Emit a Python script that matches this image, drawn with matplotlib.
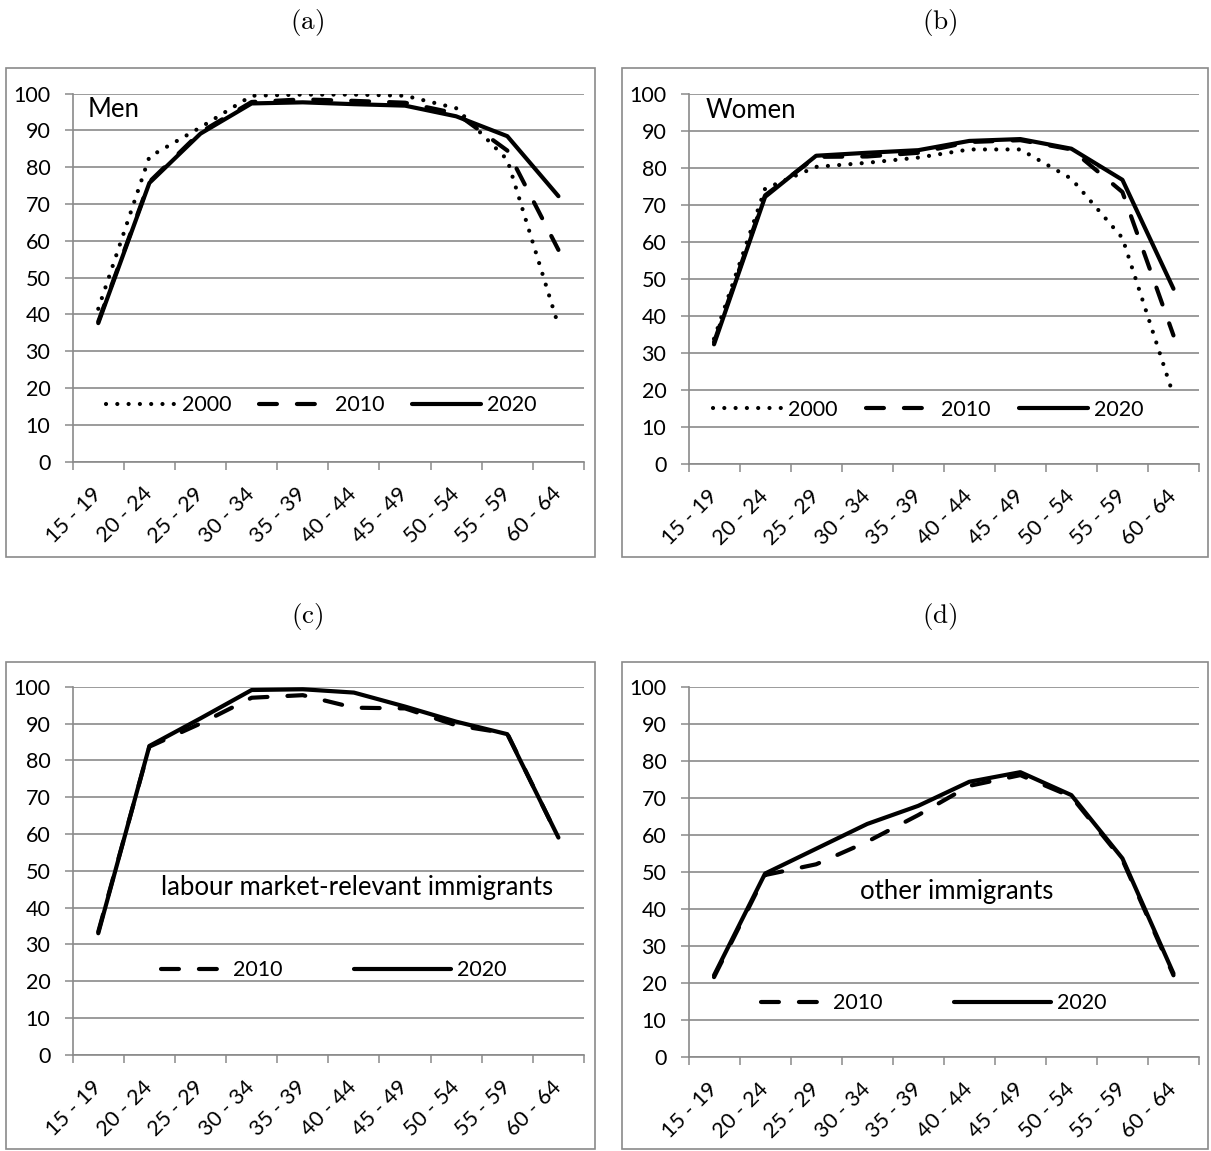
import numpy as np
import matplotlib
matplotlib.use('Agg')
import matplotlib.pyplot as plt
from matplotlib.patches import Rectangle
from matplotlib.legend_handler import HandlerLine2D

plt.rcParams['font.family'] = ['Lato', 'DejaVu Sans']

ages = ['15 - 19', '20 - 24', '25 - 29', '30 - 34', '35 - 39',
        '40 - 44', '45 - 49', '50 - 54', '55 - 59', '60 - 64']

men_2000 = [41.5, 82.8, 90.8, 99.4, 99.7, 99.7, 99.4, 96.0, 82.0, 36.9]
men_2010 = [38.0, 76.0, 89.5, 97.7, 98.4, 98.0, 97.5, 94.6, 84.5, 57.5]
men_2020 = [37.6, 75.7, 89.1, 97.3, 97.6, 97.1, 96.7, 93.8, 88.4, 72.1]

women_2000 = [33.8, 74.3, 80.2, 81.3, 82.7, 84.9, 84.9, 77.0, 61.0, 18.5]
women_2010 = [32.9, 72.5, 82.9, 83.0, 84.0, 86.9, 87.4, 84.9, 73.4, 34.7]
women_2020 = [32.3, 72.1, 83.2, 84.0, 84.7, 87.2, 87.7, 85.1, 76.7, 47.3]

labour_2010 = [33.4, 83.7, 90.0, 97.0, 97.7, 94.3, 94.1, 89.5, 87.3, 58.9]
labour_2020 = [33.0, 83.9, 91.4, 99.1, 99.3, 98.4, 94.6, 90.5, 87.1, 59.0]

other_2010 = [21.5, 49.1, 52.0, 58.1, 65.3, 73.2, 76.1, 70.3, 53.2, 22.0]
other_2020 = [22.0, 49.5, 56.2, 62.9, 67.8, 74.3, 76.9, 70.7, 53.6, 22.5]

GRAY = '#8a8a8a'
FS = 15.5
NOTE_FS = 18.5
LW = 3.0
styles = {
    '2000': dict(linestyle=(0, (0.01, 2.7)), dash_capstyle='round'),
    '2010': dict(linestyle=(0, (4.3, 4.8)), dash_capstyle='round'),
    '2020': dict(linestyle='-', solid_capstyle='round'),
}


class ShortHandler(HandlerLine2D):
    """draws the handle only in the right part of the handle box"""
    def __init__(self, frac, **kw):
        super().__init__(**kw)
        self.frac = frac

    def create_artists(self, legend, orig_handle, xdescent, ydescent,
                       width, height, fontsize, trans):
        shift = width * (1 - self.frac)
        return super().create_artists(legend, orig_handle, xdescent - shift,
                                      ydescent, width - shift, height,
                                      fontsize, trans)


def setup_axis(ax):
    x = np.arange(len(ages))
    ax.set_xlim(-0.5, len(ages) - 0.5)
    ax.set_ylim(0, 100)
    ax.set_xticks(np.arange(-0.5, len(ages), 1))
    ax.set_xticks(x, minor=True)
    ax.set_xticklabels(ages, minor=True, rotation=45, ha='right',
                       va='center', rotation_mode='anchor', fontsize=FS)
    ax.tick_params(axis='x', which='major', length=6, width=1.1,
                   color=GRAY, labelbottom=False)
    ax.tick_params(axis='x', which='minor', length=0, pad=21)
    ax.set_yticks(range(0, 101, 10))
    ax.tick_params(axis='y', length=6, width=1.1, color=GRAY, pad=10,
                   labelsize=FS)
    ax.yaxis.grid(True, color=GRAY, lw=1.2)
    ax.set_axisbelow(True)
    for s in ['top', 'right']:
        ax.spines[s].set_visible(False)
    for s in ['left', 'bottom']:
        ax.spines[s].set_color(GRAY)
        ax.spines[s].set_linewidth(1.2)
    return x


def panel(ax, series, note, note_pos, note_ha, leg_pos, short=False):
    x = setup_axis(ax)
    lines = []
    for year, vals in series:
        ln, = ax.plot(x, vals, color='black', lw=LW, label=year,
                      **styles[year])
        lines.append(ln)
    ax.text(note_pos[0], note_pos[1], note, transform=ax.transAxes,
            ha=note_ha, va='baseline', fontsize=NOTE_FS)
    if short:
        hmap = {lines[0]: ShortHandler(0.68)}
        hl, cs = 4.5, 3.3
    else:
        hmap = {}
        hl, cs = 3.2, 1.3
    ax.legend(handles=lines, loc='center left', bbox_to_anchor=leg_pos,
              ncol=len(lines), frameon=False, fontsize=FS, borderpad=0,
              borderaxespad=0, handlelength=hl, handletextpad=0.3,
              columnspacing=cs, handler_map=hmap)


fig = plt.figure(figsize=(12.11, 11.51), dpi=100)
W, H = 1211, 1151


def fig_rect(left, top, right, bottom):
    return [left / W, 1 - bottom / H, (right - left) / W, (bottom - top) / H]


ax_a = fig.add_axes(fig_rect(72.7, 93.5, 584, 461.5))
ax_b = fig.add_axes(fig_rect(688.5, 93.5, 1199, 464))
ax_c = fig.add_axes(fig_rect(72.7, 686.7, 584, 1054.7))
ax_d = fig.add_axes(fig_rect(688.5, 686.7, 1199, 1056.7))

panel(ax_a, [('2000', men_2000), ('2010', men_2010), ('2020', men_2020)],
      'Men', (0.030, 0.936), 'left', (0.066, 0.153))
panel(ax_b, [('2000', women_2000), ('2010', women_2010), ('2020', women_2020)],
      'Women', (0.034, 0.933), 'left', (0.048, 0.146))
panel(ax_c, [('2010', labour_2010), ('2020', labour_2020)],
      'labour market-relevant immigrants', (0.556, 0.434), 'center',
      (0.112, 0.23), short=True)
panel(ax_d, [('2010', other_2010), ('2020', other_2020)],
      'other immigrants', (0.526, 0.425), 'center', (0.081, 0.145),
      short=True)

# panel frames
for l, t, r, b in [(6, 68, 595, 557), (622, 68, 1208, 557),
                   (6, 662, 595, 1149), (622, 662, 1208, 1149)]:
    fig.patches.append(Rectangle((l / W, 1 - b / H), (r - l) / W, (b - t) / H,
                                 transform=fig.transFigure, fill=False,
                                 edgecolor=GRAY, lw=1.2))

for lab, cx, cy in [('a', 307, 22), ('b', 940, 22), ('c', 307, 617),
                    ('d', 940, 617)]:
    fig.text(cx / W, 1 - cy / H, r'$\mathrm{(%s)}$' % lab, ha='center',
             va='center', fontsize=19.5, math_fontfamily='cm')

fig.savefig('out.png', dpi=100)
